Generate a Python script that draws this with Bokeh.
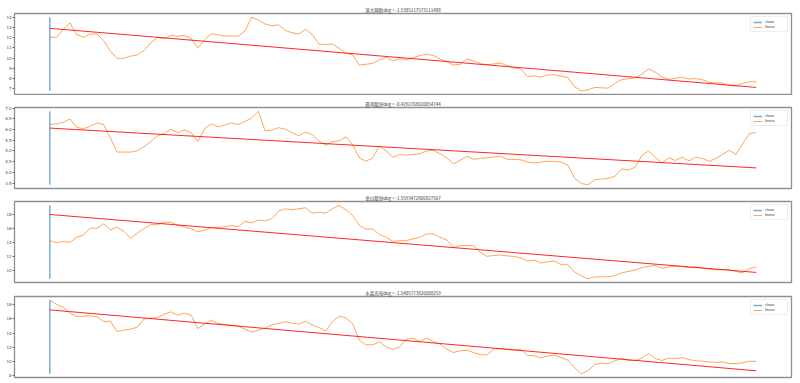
from bokeh.plotting import figure
from bokeh.layouts import column
from bokeh.models import Range1d, FixedTicker, Legend, LegendItem
from bokeh.embed import file_html
from bokeh.resources import INLINE

titles = [
    "浙大网新deg = -1.5385117573111488",
    "晨鸿股份deg = -0.4292768020054744",
    "金山股份deg = -1.5593472806827567",
    "水晶光电deg = -1.5405773826008259",
]

close_1 = [12.07, 12.07, 12.85, 13.50, 12.35, 12.07, 12.38, 12.41, 11.74, 10.68,
           9.97, 9.97, 10.18, 10.32, 10.75, 11.50, 12.04, 11.94, 12.25, 12.17,
           12.25, 11.94, 10.99, 11.80, 12.41, 12.31, 12.20, 12.20, 12.17, 12.68,
           14.07, 13.77, 13.39, 13.22, 13.29, 12.75, 12.51, 12.41, 12.85, 12.35,
           11.39, 11.33, 11.39, 10.99, 10.48, 10.32, 9.30, 9.37, 9.47, 9.81,
           10.08, 9.71, 9.94, 9.81, 10.01, 10.25, 10.38, 10.25, 9.91, 9.64,
           9.30, 9.37, 9.91, 9.71, 9.44, 9.34, 9.41, 9.51, 9.23, 9.00,
           8.90, 8.15, 8.22, 8.09, 8.32, 8.32, 8.19, 8.05, 7.13, 6.73,
           6.83, 7.07, 7.03, 7.00, 7.48, 7.84, 7.95, 8.02, 8.39, 8.90,
           8.59, 8.12, 7.88, 7.99, 8.09, 7.91, 7.95, 7.84, 7.58, 7.51,
           7.51, 7.24, 7.24, 7.48, 7.64, 7.64]

close_2 = [6.24, 6.27, 6.34, 6.50, 6.10, 6.04, 6.16, 6.31, 6.24, 5.61,
           4.95, 4.95, 4.95, 5.01, 5.20, 5.44, 5.71, 5.82, 6.02, 5.86,
           5.98, 5.86, 5.44, 6.05, 6.27, 6.13, 6.21, 6.32, 6.23, 6.38,
           6.54, 6.86, 5.94, 5.98, 6.09, 6.01, 5.86, 5.71, 5.88, 5.77,
           5.47, 5.27, 5.44, 5.47, 5.66, 5.31, 4.68, 4.52, 4.68, 5.23,
           5.00, 4.71, 4.84, 4.81, 4.84, 4.87, 5.00, 5.03, 4.87, 4.68,
           4.40, 4.56, 4.76, 4.61, 4.65, 4.68, 4.73, 4.75, 4.61, 4.61,
           4.59, 4.48, 4.44, 4.48, 4.52, 4.51, 4.48, 4.34, 3.73, 3.48,
           3.42, 3.66, 3.69, 3.72, 3.82, 4.16, 4.11, 4.24, 4.78, 5.00,
           4.70, 4.44, 4.68, 4.56, 4.71, 4.54, 4.71, 4.65, 4.52, 4.65,
           4.84, 5.03, 4.84, 5.34, 5.82, 5.86]

close_3 = [14.24, 13.95, 14.12, 13.99, 14.72, 15.06, 16.05, 16.02, 16.66, 15.79,
           16.16, 15.58, 14.57, 15.30, 15.98, 16.55, 16.52, 16.89, 16.89, 16.48,
           16.19, 15.93, 15.50, 15.73, 16.12, 16.16, 16.22, 16.41, 16.22, 17.03,
           16.80, 17.18, 17.09, 17.38, 18.48, 18.82, 18.68, 18.82, 18.97, 18.19,
           18.33, 18.19, 18.82, 19.34, 18.68, 17.86, 16.45, 15.87, 15.93, 15.11,
           14.72, 14.14, 14.24, 14.24, 14.49, 14.72, 15.21, 15.21, 14.72, 14.34,
           13.27, 13.52, 13.52, 13.52, 12.55, 11.97, 12.11, 12.17, 12.03, 11.97,
           11.74, 11.30, 11.45, 11.02, 11.20, 11.30, 10.77, 10.77, 9.71, 9.18,
           8.74, 9.03, 9.03, 9.03, 9.18, 9.61, 9.80, 10.00, 10.34, 10.52,
           10.67, 10.23, 10.44, 10.58, 10.52, 10.34, 10.44, 10.29, 10.15, 10.00,
           10.09, 10.05, 9.80, 9.61, 10.23, 10.44]

close_4 = [18.67, 18.10, 17.62, 16.82, 16.34, 16.40, 16.44, 16.34, 15.63, 15.69,
           14.21, 14.41, 14.55, 14.84, 16.01, 16.11, 16.20, 16.68, 17.01, 16.54,
           16.82, 16.54, 14.64, 15.26, 15.83, 15.35, 15.21, 15.12, 14.98, 14.55,
           14.13, 14.41, 14.70, 15.16, 15.35, 15.63, 15.40, 15.26, 15.69, 15.16,
           14.78, 14.27, 15.63, 16.40, 16.16, 15.35, 12.99, 12.33, 12.33, 12.75,
           12.04, 11.66, 12.04, 13.13, 13.28, 12.79, 13.28, 12.79, 12.43, 11.72,
           11.23, 11.48, 11.57, 11.23, 10.91, 10.91, 11.72, 11.80, 11.66, 11.57,
           11.72, 10.81, 10.77, 10.48, 10.72, 10.87, 10.52, 10.16, 9.11, 8.21,
           8.64, 9.53, 9.73, 9.63, 10.06, 10.38, 10.10, 10.10, 10.44, 11.09,
           10.38, 10.10, 10.44, 10.38, 10.52, 10.24, 10.06, 10.01, 9.91, 9.82,
           9.91, 9.67, 9.67, 9.77, 10.01, 9.96]

trend_1 = [12.96, 7.07]
trend_2 = [6.07, 4.21]
trend_3 = [18.0, 9.66]
trend_4 = [17.29, 8.64]

ticks_1 = [7, 8, 9, 10, 11, 12, 13, 14]
ticks_2 = [3.5, 4.0, 4.5, 5.0, 5.5, 6.0, 6.5, 7.0]
ticks_3 = [10, 12, 14, 16, 18]
ticks_4 = [8, 10, 12, 14, 16, 18]
tick_labels_1 = ["7", "8", "9", "10", "11", "12", "13", "14"]
tick_labels_2 = ["3.5", "4.0", "4.5", "5.0", "5.5", "6.0", "6.5", "7.0"]
tick_labels_3 = ["10", "12", "14", "16", "18"]
tick_labels_4 = ["8", "10", "12", "14", "16", "18"]

legend_labels = ["close", "linear"]

panels = [
    (titles[0], close_1, trend_1, ticks_1, tick_labels_1, 95, 13, 1),
    (titles[1], close_2, trend_2, ticks_2, tick_labels_2, 95, 12, 2),
    (titles[2], close_3, trend_3, ticks_3, tick_labels_3, 95, 11, 3),
    (titles[3], close_4, trend_4, ticks_4, tick_labels_4, 98, 11, 6),
]


def make(title, close, trend, ticks, tick_labels, height, top, bottom):
    n = len(close)
    xs = list(range(n))
    lo, hi = min(close), max(close)
    pad = (hi - lo) * 0.05
    p = figure(width=800, height=height, output_backend="svg", toolbar_location=None,
               x_range=Range1d(-0.05 * (n - 1), 1.05 * (n - 1)),
               y_range=Range1d(lo - pad, hi + pad),
               x_axis_location=None, title=title,
               min_border_left=14, min_border_right=9,
               min_border_top=top, min_border_bottom=bottom)
    p.title.align = "center"
    p.title.text_font_size = "4.5px"
    p.title.text_font = "Noto Sans CJK SC"
    p.title.text_font_style = "normal"
    p.title.text_color = "#333333"
    p.title.standoff = 2
    p.title.offset = 0
    p.grid.visible = False
    p.outline_line_color = "#909090"
    p.outline_line_width = 1.3
    p.background_fill_color = "white"
    p.border_fill_color = "white"

    ax = p.yaxis[0]
    ax.ticker = FixedTicker(ticks=ticks)
    ax.major_label_overrides = {t: l for t, l in zip(ticks, tick_labels)}
    ax.major_label_text_font_size = "4px"
    ax.major_label_text_font = "DejaVu Sans"
    ax.major_label_text_color = "#444444"
    ax.major_label_standoff = 1
    ax.major_tick_out = 2
    ax.major_tick_in = 0
    ax.major_tick_line_color = "#666666"
    ax.minor_tick_line_color = None
    ax.axis_line_color = None

    blue = p.line([0, 0], [lo, hi], line_color="#1f77b4", line_width=1.5, line_alpha=0.6)
    orange = p.line(xs, close, line_color="#ff7f0e", line_width=1, line_alpha=0.7)
    p.line([0, n - 1], trend, line_color="red", line_width=1, line_alpha=0.85)

    legend = Legend(items=[LegendItem(label=legend_labels[0], renderers=[blue]),
                           LegendItem(label=legend_labels[1], renderers=[orange])],
                    location="top_right")
    legend.label_text_font_size = "4px"
    legend.label_text_color = "#444444"
    legend.label_height = 4
    legend.glyph_height = 4
    legend.glyph_width = 9
    legend.label_standoff = 3
    legend.spacing = 0
    legend.padding = 2
    legend.margin = 3
    legend.border_line_color = "#dddddd"
    legend.background_fill_alpha = 0.9
    p.add_layout(legend)
    return p


figs = [make(*args) for args in panels]
layout = column(*figs, spacing=0)

open("out.html", "w").write(file_html(layout, INLINE))
